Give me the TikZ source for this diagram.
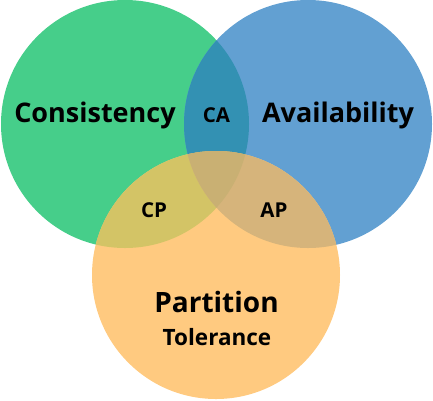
\documentclass[tikz,border=0pt]{standalone}
\usepackage{fontspec}
\setmainfont{Open Sans}
\definecolor{cgreen}{HTML}{46CE8A}
\definecolor{cblue}{HTML}{62A0D2}
\definecolor{corange}{HTML}{FFCA80}
\definecolor{colca}{HTML}{3391B3}
\definecolor{colcp}{HTML}{D3C466}
\definecolor{colap}{HTML}{D6B47B}
\definecolor{colcap}{HTML}{C9B073}
\tikzset{
  lbl/.style={text=black, inner sep=0pt, anchor=base},
  big/.style={lbl, font=\bfseries\fontsize{27}{30}\selectfont},
  mid/.style={lbl, font=\bfseries\fontsize{28}{31}\selectfont},
  sub/.style={lbl, font=\bfseries\fontsize{22.5}{25}\selectfont},
  small/.style={lbl, font=\bfseries\fontsize{20.5}{23}\selectfont},
}
\begin{document}
\begin{tikzpicture}[x=1pt,y=-1pt]
\useasboundingbox (0,0) rectangle (433,400);
\coordinate (G) at (125,124);
\coordinate (B) at (308,124);
\coordinate (O) at (216,275);
\def\R{124}
\fill[cgreen] (G) circle[radius=\R];
\fill[cblue] (B) circle[radius=\R];
\fill[corange] (O) circle[radius=\R];
\begin{scope}
  \clip (G) circle[radius=\R];
  \fill[colca] (B) circle[radius=\R];
  \fill[colcp] (O) circle[radius=\R];
\end{scope}
\begin{scope}
  \clip (B) circle[radius=\R];
  \fill[colap] (O) circle[radius=\R];
\end{scope}
\begin{scope}
  \clip (G) circle[radius=\R];
  \clip (B) circle[radius=\R];
  \fill[colcap] (O) circle[radius=\R];
\end{scope}
\node[big] (cons) at (95,122) {Consistency};
\node[big] (avail) at (338,122) {Availability};
\node[small] (ca) at (216.5,122) {CA};
\node[small] (cp) at (154,217) {CP};
\node[small] (ap) at (274,217) {AP};
\node[mid] (part) at (216.5,312) {Partition};
\node[sub] (tol) at (217,345) {Tolerance};
\end{tikzpicture}
\end{document}
